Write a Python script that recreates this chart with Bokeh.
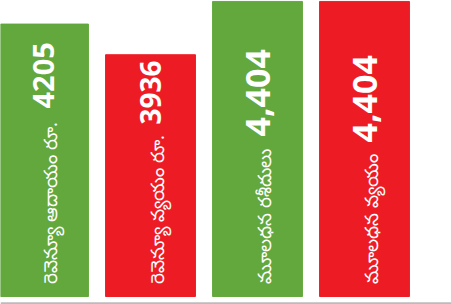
from bokeh.plotting import figure
from bokeh.models import ColumnDataSource, Range1d, Span
from bokeh.core.properties import value
from bokeh.embed import file_html
from bokeh.resources import INLINE

labels = ["రెవెన్యూ ఆదాయం రూ.", "రెవెన్యూ వ్యయం రూ.", "మూలధన రశీదులు", "మూలధన వ్యయం"]
amounts = [4205, 3936, 4404, 4404]
amount_text = ["4205", "3936", "4,404", "4,404"]
colors = ["#62a83c", "#ed1c24", "#62a83c", "#ed1c24"]

# layout (pixels): where each bold number starts above the bar base, and its size
num_shift = [188, 172, 160, 154]
num_size = ["29px", "28px", "34px", "34px"]

BASE = 1814

src = ColumnDataSource(dict(
    x=list(range(len(amounts))), top=amounts, label=labels, num=amount_text,
    color=colors, off=[-s for s in num_shift], size=num_size))

p = figure(width=451, height=304, output_backend="svg", toolbar_location=None,
           x_range=Range1d(-0.402, 3.813), y_range=Range1d(1744, 4412),
           min_border=0, min_border_left=0, min_border_right=0,
           min_border_top=0, min_border_bottom=0)
p.outline_line_color = None
p.grid.visible = False
p.axis.visible = False
p.background_fill_color = "white"

p.vbar(x="x", top="top", bottom=BASE, width=0.84, color="color", source=src)
p.add_layout(Span(location=1754, dimension="width", line_color="#bbbbbb", line_width=2))

p.text(x="x", y=BASE, text="label", angle=1.5708, text_align="left",
       text_baseline="alphabetic", x_offset=6, y_offset=-13,
       text_font=value("Noto Sans"), text_font_size="18.5px", text_color="white", source=src)
p.text(x="x", y=BASE, text="num", angle=1.5708, text_align="left",
       text_baseline="alphabetic", x_offset=0, y_offset="off",
       text_font=value("Noto Sans"), text_font_style="bold", text_font_size="size",
       text_color="white", source=src)

open("out.html", "w").write(file_html(p, INLINE))
